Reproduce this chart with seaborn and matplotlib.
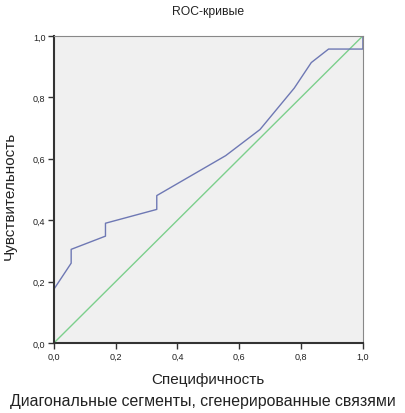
import numpy as np
import pandas as pd
import matplotlib
matplotlib.use("Agg")
import matplotlib.pyplot as plt
import seaborn as sns

# ROC curve points (1 - specificity, sensitivity)
fpr = [0.0, 0.0, 0.056, 0.056, 0.167, 0.167, 0.333, 0.333, 0.556, 0.667, 0.778, 0.833, 0.889, 1.0, 1.0]
tpr = [0.0, 0.175, 0.26, 0.305, 0.348, 0.39, 0.435, 0.48, 0.61, 0.695, 0.83, 0.913, 0.957, 0.957, 1.0]
diag = [0.0, 1.0]
ticks = [0.0, 0.2, 0.4, 0.6, 0.8, 1.0]
tick_labels = ["0,0", "0,2", "0,4", "0,6", "0,8", "1,0"]

sns.set_style("white")
plt.rcParams['font.family'] = ['Liberation Sans', 'DejaVu Sans']

roc_df = pd.DataFrame({"x": fpr, "y": tpr})
diag_df = pd.DataFrame({"x": diag, "y": diag})

fig = plt.figure(figsize=(4.05, 4.14), dpi=100)
ax = fig.add_axes([0.133, 0.169, 0.763, 0.742])
ax.set_facecolor("#f0f0f0")

sns.lineplot(data=diag_df, x="x", y="y", ax=ax, color="#7ccf8c", lw=1.0,
             sort=False, estimator=None)
sns.lineplot(data=roc_df, x="x", y="y", ax=ax, color="#6e78b4", lw=1.0,
             sort=False, estimator=None)

ax.set_xlim(0, 1)
ax.set_ylim(0, 1)
ax.set_xticks(ticks)
ax.set_xticklabels(tick_labels)
ax.set_yticks(ticks)
ax.set_yticklabels(tick_labels)
ax.set_xlabel("")
ax.set_ylabel("")
ax.tick_params(axis="both", direction="out", length=4, width=1, labelsize=6.5,
               color="#333333", labelcolor="#222222", bottom=True, left=True, pad=2)

for side in ["left", "bottom"]:
    ax.spines[side].set_color("#333333")
    ax.spines[side].set_linewidth(1.5)
for side in ["top", "right"]:
    ax.spines[side].set_color("#888888")
    ax.spines[side].set_linewidth(0.8)

fig.text(0.513, 1 - 12 / 414, "ROC-кривые", ha="center", va="center",
         fontsize=8.7, color="#222222")
fig.text(0.513, 1 - 380 / 414, "Специфичность", ha="center", va="center",
         fontsize=11, color="#222222")
fig.text(10 / 405, 1 - 196 / 414, "Чувствительность", ha="center", va="center",
         rotation=90, fontsize=11, color="#222222")
fig.text(0.5, 1 - 402 / 414, "Диагональные сегменты, сгенерированные связями",
         ha="center", va="center", fontsize=11.4, color="#222222")

fig.savefig("out.png", dpi=100)
